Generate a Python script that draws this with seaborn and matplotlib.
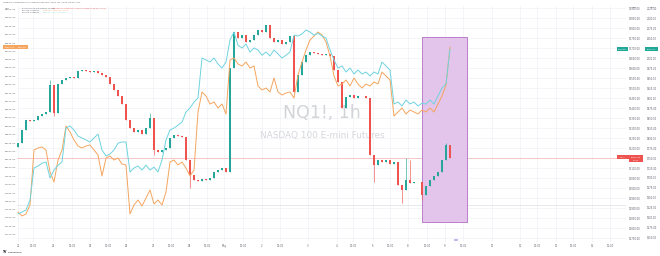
import matplotlib
matplotlib.use("Agg")
import numpy as np
import pandas as pd
import matplotlib.pyplot as plt
from matplotlib.patches import Rectangle, Circle
import matplotlib.transforms as mtransforms
import seaborn as sns

# ---------------- data ----------------
nq_close = [13225, 13290, 13340, 13335, 13340, 13360, 13370, 13380, 13515, 13375,
            13520, 13540, 13550, 13555, 13550, 13585, 13590, 13585, 13580, 13585,
            13575, 13565, 13555, 13520, 13490, 13460, 13420, 13340, 13300, 13280,
            13290, 13270, 13300, 13350, 13190, 13180, 13190, 13200, 13250, 13265,
            13260, 13255, 13140, 13065, 13040, 13035, 13045, 13040, 13050, 13080,
            13090, 13100, 13080, 13600, 13780, 13750, 13765, 13730, 13740, 13765,
            13790, 13780, 13815, 13750, 13730, 13740, 13720, 13730, 13760, 13480,
            13565, 13630, 13665, 13680, 13675, 13670, 13665, 13670, 13660, 13590,
            13530, 13400, 13455, 13465, 13450, 13460, 13460, 13450, 13165, 13115,
            13140, 13130, 13140, 13120, 13130, 13015, 12990, 13040, 13025, 13030,
            13030, 12965, 13010, 13040, 13060, 13080, 13140, 13215, 13150]
nq_first_open = 13205
wick_bars = [8, 9, 33, 34, 43, 89, 96, 97, 98, 101, 107]
wick_high = [13540, np.nan, 13375, np.nan, np.nan, np.nan, np.nan, 13150, 13140, np.nan, 13225]
wick_low = [np.nan, 13360, np.nan, 13165, 13000, 13030, 12925, np.nan, np.nan, 12940, np.nan]

btc_close = [27340, 27280, 27310, 27445, 28270, 28300, 28315, 28270, 27940, 27790,
             28120, 28270, 28630, 28540, 28420, 28330, 28300, 28330, 28345, 28270,
             28195, 27880, 28150, 28180, 28120, 28150, 28060, 28045, 27310, 27445,
             27520, 27430, 27550, 27670, 27460, 27520, 27445, 27640, 28090, 28120,
             28045, 28090, 28000, 27880, 27970, 28840, 29140, 29080, 28960, 28990,
             28900, 28960, 28810, 29620, 29650, 29560, 29530, 29590, 29500, 29530,
             29230, 29170, 29200, 29140, 29350, 29140, 29095, 29125, 29140, 29050,
             29395, 29590, 29770, 29920, 29980, 30040, 29995, 29890, 29680, 29380,
             29230, 29260, 29320, 29230, 29350, 29260, 29200, 29260, 29230, 29290,
             29260, 29440, 29380, 29320, 28780, 28840, 28900, 28810, 28870, 28840,
             28810, 28870, 28840, 28900, 28840, 28960, 29080, 29245, 29815]

eth_close = [1610, 1615, 1620, 1645, 1725, 1730, 1737, 1740, 1700, 1720,
             1732, 1740, 1825, 1830, 1820, 1805, 1800, 1795, 1790, 1800,
             1810, 1770, 1755, 1760, 1770, 1787, 1790, 1790, 1715, 1725,
             1730, 1720, 1732, 1720, 1727, 1715, 1745, 1795, 1820, 1825,
             1832, 1840, 1865, 1875, 1890, 1900, 2000, 1995, 1990, 2000,
             1985, 1975, 1990, 2045, 2065, 2032, 2025, 2035, 2015, 2025,
             2020, 2007, 2015, 2005, 2020, 2010, 2000, 2007, 2015, 2057,
             2055, 2060, 2070, 2065, 2057, 2062, 2055, 2050, 2020, 1995,
             1975, 1980, 1965, 1975, 1960, 1970, 1960, 1965, 1955, 1965,
             1960, 1990, 1980, 1970, 1885, 1890, 1880, 1895, 1885, 1890,
             1880, 1887, 1885, 1895, 1885, 1905, 1925, 1935, 2022]

time_labels = ["21", "12:00", "24", "12:00", "25", "12:00", "26", "27", "12:00", "28",
               "12:00", "May", "12:00", "2", "12:00", "3", "4", "12:00", "5", "12:00",
               "8", "12:00", "9", "12:00", "10", "11", "12:00", "12", "12:00", "15", "12:00"]
time_label_bar = [0, 3.75, 8.75, 13.5, 18, 22.5, 27, 33.75, 38.25, 42.75,
                  47.25, 51.5, 56.25, 61, 65.5, 72.5, 79.75, 83.75, 88.75, 93,
                  97.5, 102.25, 106.75, 111.25, 118.5, 125.5, 129.75, 134.5, 138.75, 143.5, 148]

nq_ticks = list(range(12750, 13901, 50))
btc_ticks = list(range(27000, 30376, 125))
eth_ticks = list(range(1550, 2126, 25))

box_start_bar, box_end_bar = 101, 112.25
box_top, box_bottom = 13755, 12830
reference_level = 12915

# ---------------- style ----------------
GREEN = "#26a69a"
RED = "#ef5350"
ORANGE = "#f5a55e"
CYAN = "#6fd3df"
TEAL = "#22a897"
GRID = "#f0f2f6"
TXT = "#5d606b"

sns.set_theme(style="white")
plt.rcParams["font.family"] = ["DejaVu Sans"]

W, H = 660, 256
fig = plt.figure(figsize=(W / 100, H / 100), dpi=100)
L, R, T, B = 17, 626, 6, 242
ax = fig.add_axes([L / W, (H - B) / H, (R - L) / W, (B - T) / H])

n = len(nq_close)
idx = np.arange(n)
closes = np.array(nq_close, float)
opens = np.concatenate([[nq_first_open], closes[:-1]])
highs = np.maximum(opens, closes)
lows = np.minimum(opens, closes)
for b, hv, lv in zip(wick_bars, wick_high, wick_low):
    if not np.isnan(hv):
        highs[b] = max(highs[b], hv)
    if not np.isnan(lv):
        lows[b] = min(lows[b], lv)
up = closes >= opens
cols = np.where(up, GREEN, RED)

ax.set_xlim(-0.25, 152)
ax.set_ylim(12730, 13910)

# grid
for t in nq_ticks:
    ax.axhline(t, color=GRID, lw=0.5, zorder=0)
for p in time_label_bar:
    ax.axvline(p, color=GRID, lw=0.5, zorder=0)
ax.axhline(reference_level, color="#dcdfe6", lw=0.5, zorder=0.5)
ax.axhline(closes[-1], color="#f4b3b2", lw=0.5, zorder=0.5)

# highlight box
ax.add_patch(Rectangle((box_start_bar, box_bottom), box_end_bar - box_start_bar,
                       box_top - box_bottom, facecolor="#e3c4ea", edgecolor="#b46fc4",
                       lw=0.6, zorder=1))

# watermark
ax.text(0.5, 0.547, "NQ1!, 1h", transform=ax.transAxes, ha="center", va="center",
        fontsize=12.5, color="#d3d4d8", zorder=0.8)
ax.text(0.502, 0.453, "NASDAQ 100 E-mini Futures", transform=ax.transAxes, ha="center",
        va="center", fontsize=6.4, color="#d6d7db", zorder=0.8)

# candles
ax.vlines(idx, lows, highs, colors=cols, lw=0.45, zorder=3)
body_bottom = np.minimum(opens, closes)
body_h = np.maximum(np.abs(closes - opens), 2.5)
ax.bar(idx, body_h, bottom=body_bottom, width=0.6, color=cols, lw=0, zorder=3)

# overlays
df = pd.DataFrame({"bar": idx, "btc": btc_close, "eth": eth_close})
ax_btc = ax.twinx()
ax_eth = ax.twinx()
sns.lineplot(data=df, x="bar", y="btc", ax=ax_btc, color=ORANGE, lw=0.7, zorder=4)
sns.lineplot(data=df, x="bar", y="eth", ax=ax_eth, color=CYAN, lw=0.7, zorder=4)
ax_btc.set_ylim(26890, 30430)
ax_eth.set_ylim(1540, 2130)
ax_btc.set_xlim(-0.25, 152)

# axes formatting
ax.yaxis.tick_right()
ax.set_yticks(nq_ticks)
ax.set_yticklabels([f"{v:.2f}" for v in nq_ticks])
ax.tick_params(axis="y", length=0, pad=2, labelsize=1.8, labelcolor=TXT)
ax.set_xticks(time_label_bar)
ax.set_xticklabels(time_labels)
ax.tick_params(axis="x", length=0, pad=1.2, labelsize=1.8, labelcolor=TXT)

ax_btc.yaxis.set_label_position("left")
ax_btc.yaxis.tick_left()
ax_btc.set_yticks(btc_ticks)
ax_btc.set_yticklabels([f"{v:.2f}" for v in btc_ticks])
ax_btc.tick_params(axis="y", length=0, pad=0.8, labelsize=1.7, labelcolor=TXT)

ax_eth.spines["right"].set_position(("outward", 14))
ax_eth.set_yticks(eth_ticks)
ax_eth.set_yticklabels([f"{v:.2f}" for v in eth_ticks])
ax_eth.tick_params(axis="y", length=0, pad=1.2, labelsize=1.8, labelcolor=TXT)

for a in (ax, ax_btc, ax_eth):
    a.set_xlabel("")
    a.set_ylabel("")
    for s in a.spines.values():
        s.set_visible(False)

# ---------------- tags and header text ----------------
fig.canvas.draw()


def fig_y(a, v):
    return a.transData.transform((0, v))[1]


def tag(x0, x1, ydisp, text, color, h=4.2, fs=1.5, tcolor="white"):
    fig.add_artist(Rectangle((x0 / W, (ydisp - h / 2) / H), (x1 - x0) / W, h / H,
                             transform=fig.transFigure, facecolor=color, edgecolor="none",
                             zorder=10))
    fig.text((x0 + x1) / 2 / W, ydisp / H, text, ha="center", va="center", fontsize=fs,
             color=tcolor, zorder=11)


y_nq = fig_y(ax, closes[-1])
tag(617, 628, y_nq + 1, "NQ1!", RED)
tag(628, 643, y_nq + 1, f"{closes[-1]:.2f}", RED)
tag(629, 643, y_nq - 2.6, "34:12", RED, h=3.4)

y_eth = fig_y(ax_eth, eth_close[-1])
tag(617, 628, y_eth, "ETHUSD", TEAL)
tag(645, 658, y_eth, f"{eth_close[-1]:.2f}", TEAL)

y_btc = fig_y(ax_btc, btc_close[-1])
tag(3, 17, y_btc, f"{btc_close[-1]:.2f}", ORANGE)
tag(17, 28, y_btc, "BTCUSD", ORANGE)

# scale headers
fig.text(7 / W, 1 - 8.5 / H, "USD", fontsize=1.6, color=TXT, ha="center", va="center")
fig.text(634 / W, 1 - 7 / H, "USD", fontsize=1.6, color=TXT, ha="center", va="center")
fig.text(652 / W, 1 - 7 / H, "USD", fontsize=1.6, color=TXT, ha="center", va="center")

fig.text(3 / W, 1 - 2.5 / H, "TraderX published on TradingView.com, May 09, 2023 03:25 UTC",
         fontsize=1.7, color="#666", va="center")
fig.text(22 / W, 1 - 8 / H, "NASDAQ 100 E-mini Futures, 1h, CME", fontsize=1.3,
         color=TXT, va="center")
fig.text(52 / W, 1 - 8 / H,
         f"O{opens[-1]:.2f} H{highs[-1]:.2f} L{lows[-1]:.2f} C{closes[-1]:.2f} "
         f"{closes[-1] - opens[-1]:+.2f} ({(closes[-1] - opens[-1]) / opens[-1] * 100:+.2f}%)",
         fontsize=1.3, color=RED, va="center")
fig.text(22 / W, 1 - 10.4 / H, "BTCUSD, COINBASE", fontsize=1.3, color=TXT, va="center")
fig.text(43 / W, 1 - 10.4 / H, f"{btc_close[-1]:.2f}  +645.00 (+2.21%)", fontsize=1.3,
         color=ORANGE, va="center")
fig.text(22 / W, 1 - 12.6 / H, "ETHUSD, COINBASE", fontsize=1.3, color=TXT, va="center")
fig.text(43 / W, 1 - 12.6 / H, f"{eth_close[-1]:.2f}  +87.00 (+4.49%)", fontsize=1.3,
         color=CYAN, va="center")

# event icon on the time scale and logo
fig.add_artist(Circle((456 / W, 1 - 240 / H), 2.3 / W, transform=fig.transFigure,
                      facecolor="#b7a6ee", edgecolor="none", zorder=10))
fig.text(3 / W, 1 - 252 / H, "TV", fontsize=2.2, weight="bold", color="#131722", va="center")
fig.text(8 / W, 1 - 252 / H, "TradingView", fontsize=1.7, color="#131722", va="center")

fig.savefig("out.png", dpi=100)
